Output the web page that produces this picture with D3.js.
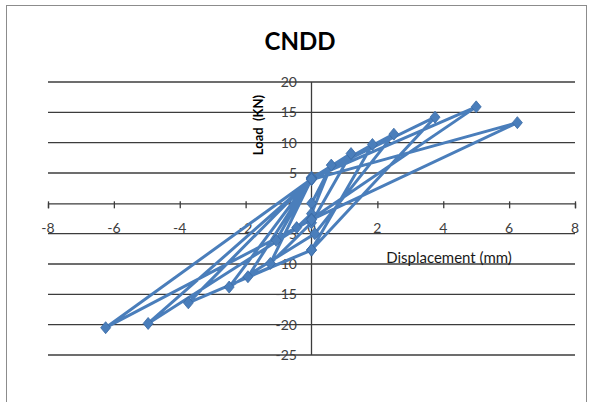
<!DOCTYPE html>
<html>
<head>
<meta charset="utf-8">
<script src="https://cdn.jsdelivr.net/npm/d3@7"></script>
<style>
  html, body { margin: 0; padding: 0; background: #ffffff; }
  svg { display: block; font-family: Lato, "Open Sans", sans-serif; }
</style>
</head>
<body>
<svg id="chart" width="590" height="402"></svg>
<script>
// ---- data ----
const title = "CNDD";
const xTitle = "Displacement (mm)";
const yTitle = "Load  (KN)";
const xTicks = [-8, -6, -4, -2, 0, 2, 4, 6, 8];
const yTicks = [20, 15, 10, 5, 0, -5, -10, -15, -20, -25];
const displacement = [0, 0.6, 0, -0.45, -1.07, 0, 1.2, 0, -1.25, 0, 1.85, 0, -1.93, 0, 2.5, 0.1, -2.5, 0, 3.75, 0, -3.74, 0, 5, 0, -4.96, 0, 6.25, 0, -6.25, 0];
const load =         [0, 6.3, -1.7, -4.0, -6.1, 4.1, 8.2, -3.2, -9.9, 4.0, 9.7, -7.7, -12.1, 4.2, 11.4, -5, -13.8, 4.3, 14.2, -7.7, -16.4, 4.1, 15.9, -2.6, -19.8, 3.9, 13.3, -2.7, -20.5, 4.0];

const svg = d3.select("#chart");
const plot = { left: 48, right: 575, top: 82, bottom: 355 };

const x = d3.scaleLinear().domain([-8, 8]).range([plot.left, plot.right]);
const y = d3.scaleLinear().domain([-25, 20]).range([plot.bottom, plot.top]);
const gridColor = "#3c3c3c";

// outer chart border
svg.append("rect")
  .attr("x", 6.5).attr("y", 5.5).attr("width", 580).attr("height", 410)
  .attr("fill", "#fff").attr("stroke", "#8c8c8c").attr("stroke-width", 1);

// title
svg.append("text")
  .attr("x", 300).attr("y", 50)
  .attr("text-anchor", "middle")
  .attr("font-size", 24).attr("font-weight", "bold").attr("fill", "#000")
  .text(title);

// y tick labels (drawn under the gridlines, as in the reference)
svg.append("g").selectAll("text").data(yTicks).join("text")
  .attr("x", 297).attr("y", d => y(d))
  .attr("dy", "0.36em")
  .attr("text-anchor", "end")
  .attr("font-size", 14).attr("fill", "#404040")
  .text(d => d);

// x tick labels
svg.append("g").selectAll("text").data(xTicks).join("text")
  .attr("x", d => x(d)).attr("y", 233)
  .attr("text-anchor", "middle")
  .attr("font-size", 14).attr("fill", "#404040")
  .text(d => d);

// horizontal gridlines
svg.append("g").selectAll("line").data(yTicks.filter(d => d !== 0)).join("line")
  .attr("x1", plot.left).attr("x2", plot.right)
  .attr("y1", d => y(d)).attr("y2", d => y(d))
  .attr("stroke", gridColor).attr("stroke-width", 1.3);

// x axis (at y = 0) with ticks
const xAxis = d3.axisBottom(x).tickValues(xTicks).tickSize(5).tickFormat("");
const gx = svg.append("g").attr("transform", `translate(0,${y(0)})`).call(xAxis);
gx.select(".domain").attr("stroke", gridColor).attr("stroke-width", 1.3);
gx.selectAll(".tick line").attr("stroke", gridColor).attr("stroke-width", 1.3).attr("y1", -2);

// y axis line at x = 0
svg.append("line")
  .attr("x1", x(0)).attr("x2", x(0))
  .attr("y1", y(20)).attr("y2", y(-25))
  .attr("stroke", gridColor).attr("stroke-width", 1.3);

// axis titles
svg.append("text")
  .attr("x", 449).attr("y", 263)
  .attr("text-anchor", "middle")
  .attr("font-size", 15).attr("fill", "#1a1a1a")
  .text(xTitle);

svg.append("text")
  .attr("transform", `translate(263,125) rotate(-90)`)
  .attr("text-anchor", "middle")
  .attr("font-size", 13).attr("font-weight", "bold").attr("fill", "#000")
  .style("white-space", "pre")
  .text(yTitle);

// series
const pts = displacement.map((d, i) => [d, load[i]]);
const color = "#4a7ebb";
svg.append("path")
  .datum(pts)
  .attr("fill", "none")
  .attr("stroke", color)
  .attr("stroke-width", 3)
  .attr("stroke-linejoin", "round")
  .attr("d", d3.line().x(d => x(d[0])).y(d => y(d[1])));

svg.append("g").selectAll("path").data(pts).join("path")
  .attr("transform", d => `translate(${x(d[0])},${y(d[1])})`)
  .attr("d", "M0,-6L5,0L0,6L-5,0Z")
  .attr("fill", color)
  .attr("stroke", "#3a6aa5").attr("stroke-width", 0.8);
</script>
</body>
</html>
